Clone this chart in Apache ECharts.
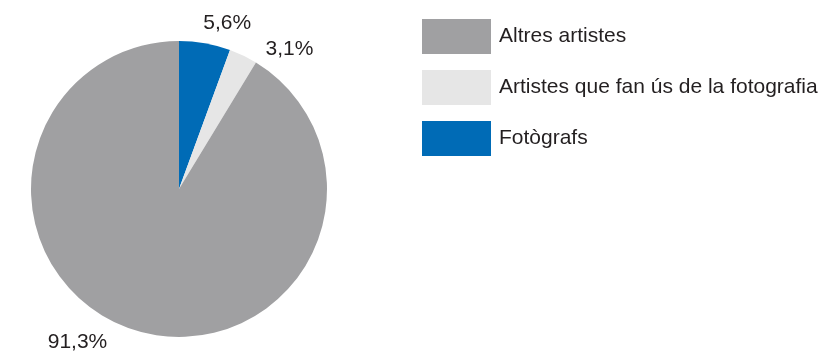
<!DOCTYPE html>
<html>
<head>
<meta charset="utf-8">
<script src="https://cdn.jsdelivr.net/npm/echarts@6/dist/echarts.min.js"></script>
<style>
  html, body { margin: 0; padding: 0; background: #fff; }
  #chart { width: 833px; height: 353px; }
</style>
</head>
<body>
<div id="chart"></div>
<script>
// Slices, drawn clockwise from 12 o'clock
const categories = ['Fotògrafs', 'Artistes que fan ús de la fotografia', 'Altres artistes'];
const shares = [5.6, 3.1, 91.3];
const legendOrder = ['Altres artistes', 'Artistes que fan ús de la fotografia', 'Fotògrafs'];

const palette = {
  'Fotògrafs': '#006bb6',
  'Artistes que fan ús de la fotografia': '#e6e6e6',
  'Altres artistes': '#a0a0a2'
};

// Small nudges of the percentage labels away from their default outside spot
const labelNudge = [[-13, -6], [-6, -3], [-19, -3]];

const fontFamily = '"Liberation Sans", Arial, Helvetica, sans-serif';

const chart = echarts.init(document.getElementById('chart'), null, { renderer: 'canvas' });

chart.setOption({
  animation: false,
  backgroundColor: '#ffffff',
  legend: {
    orient: 'vertical',
    left: 417,
    top: 14,
    itemWidth: 69,
    itemHeight: 35,
    itemGap: 16,
    icon: 'rect',
    data: legendOrder,
    selectedMode: false,
    textStyle: {
      fontFamily: fontFamily,
      fontSize: 21,
      color: '#231f20',
      padding: [0, 0, 0, 3]
    }
  },
  series: [{
    type: 'pie',
    center: [179, 189],
    radius: [0, 148],
    startAngle: 90,
    clockwise: true,
    data: categories.map((name, i) => ({
      name: name,
      value: shares[i],
      itemStyle: { color: palette[name] }
    })),
    label: {
      show: true,
      position: 'outside',
      formatter: p => p.value.toFixed(1).replace('.', ',') + '%',
      fontFamily: fontFamily,
      fontSize: 21,
      color: '#231f20'
    },
    labelLine: { show: false, length: 14, length2: 4 },
    labelLayout: p => ({ dx: labelNudge[p.dataIndex][0], dy: labelNudge[p.dataIndex][1] })
  }]
});
</script>
</body>
</html>
